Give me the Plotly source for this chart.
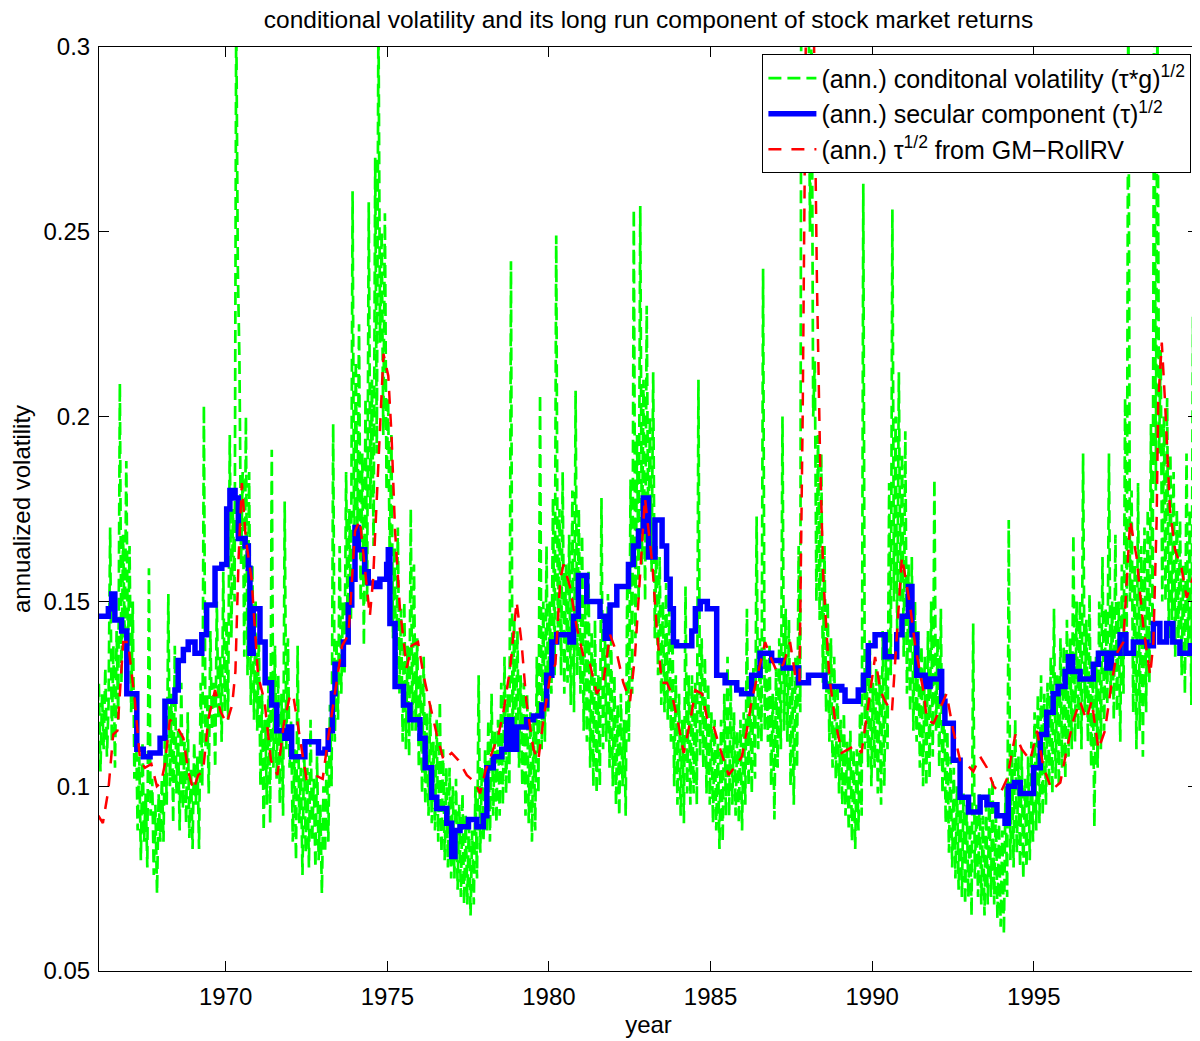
import plotly.graph_objects as go

# ---------------- data ----------------
# secular component (tau)^1/2 : step function, (year, annualized vol)
blue_year = [1966.06, 1966.37, 1966.47, 1966.57, 1966.78, 1966.94, 1967.25, 1967.45, 1967.66, 1967.97,
             1968.12, 1968.43, 1968.53, 1968.69, 1968.84, 1969.05, 1969.26, 1969.41, 1969.67, 1969.88,
             1970.03, 1970.13, 1970.29, 1970.39, 1970.60, 1970.70, 1970.75, 1970.85, 1971.06, 1971.22,
             1971.42, 1971.58, 1971.83, 1971.94, 1972.04, 1972.45, 1972.87, 1973.07, 1973.17, 1973.30,
             1973.38, 1973.64, 1973.79, 1973.90, 1974.00, 1974.10, 1974.30, 1974.41, 1974.60, 1974.77,
             1974.98, 1975.03, 1975.08, 1975.24, 1975.50, 1975.70, 1976.01, 1976.17, 1976.37, 1976.53,
             1976.84, 1976.99, 1977.09, 1977.25, 1977.51, 1977.77, 1977.97, 1978.08, 1978.28, 1978.54,
             1978.69, 1978.85, 1979.00, 1979.31, 1979.52, 1979.78, 1979.93, 1980.09, 1980.24, 1980.65,
             1980.76, 1980.91, 1981.17, 1981.58, 1981.74, 1981.89, 1982.10, 1982.46, 1982.61, 1982.77,
             1982.92, 1983.08, 1983.28, 1983.50, 1983.64, 1983.75, 1983.85, 1983.95, 1984.42, 1984.53,
             1984.68, 1984.90, 1985.19, 1985.45, 1985.81, 1985.96, 1986.27, 1986.53, 1986.89, 1987.25,
             1987.72, 1988.03, 1988.54, 1989.06, 1989.16, 1989.57, 1989.73, 1989.88, 1990.09, 1990.40,
             1990.76, 1990.92, 1991.12, 1991.23, 1991.38, 1991.64, 1991.79, 1992.10, 1992.15, 1992.25,
             1992.51, 1992.72, 1992.98, 1993.34, 1993.55, 1993.86, 1994.11, 1994.21, 1994.40, 1994.58,
             1994.99, 1995.20, 1995.40, 1995.60, 1995.75, 1995.97, 1996.07, 1996.20, 1996.43, 1996.84,
             1997.00, 1997.26, 1997.40, 1997.67, 1997.85, 1998.08, 1998.50, 1998.70, 1998.90, 1999.11,
             1999.30, 1999.52, 1999.85, 1999.99, 2000.10]
blue_vol = [0.146, 0.148, 0.152, 0.145, 0.142, 0.125, 0.110, 0.108, 0.109, 0.113,
            0.123, 0.126, 0.134, 0.137, 0.139, 0.136, 0.141, 0.149, 0.159, 0.160,
            0.175, 0.180, 0.178, 0.167, 0.165, 0.159, 0.136, 0.148, 0.139, 0.128,
            0.122, 0.115, 0.113, 0.116, 0.108, 0.112, 0.109, 0.110, 0.115, 0.125,
            0.133, 0.139, 0.149, 0.156, 0.170, 0.164, 0.158, 0.155, 0.154, 0.156,
            0.160, 0.164, 0.144, 0.127, 0.122, 0.118, 0.113, 0.105, 0.097, 0.094,
            0.090, 0.081, 0.088, 0.089, 0.091, 0.089, 0.092, 0.105, 0.108, 0.110,
            0.118, 0.110, 0.116, 0.118, 0.119, 0.122, 0.130, 0.139, 0.141, 0.139,
            0.146, 0.157, 0.150, 0.146, 0.140, 0.149, 0.154, 0.160, 0.165, 0.169,
            0.178, 0.162, 0.172, 0.165, 0.156, 0.148, 0.139, 0.138, 0.142, 0.148,
            0.150, 0.148, 0.130, 0.128, 0.126, 0.125, 0.130, 0.136, 0.134, 0.132,
            0.128, 0.130, 0.127, 0.126, 0.123, 0.126, 0.130, 0.138, 0.141, 0.135,
            0.141, 0.146, 0.154, 0.141, 0.130, 0.127, 0.129, 0.131, 0.123, 0.117,
            0.107, 0.097, 0.093, 0.097, 0.095, 0.092, 0.090, 0.100, 0.101, 0.098,
            0.105, 0.114, 0.120, 0.125, 0.127, 0.131, 0.135, 0.131, 0.129, 0.133,
            0.136, 0.132, 0.136, 0.141, 0.136, 0.139, 0.138, 0.144, 0.139, 0.144,
            0.139, 0.136, 0.138, 0.146, 0.146]

# tau^1/2 from GM-RollRV
red_year = [1966.06, 1966.20, 1966.37, 1966.52, 1966.65, 1966.83, 1966.98, 1967.10, 1967.19, 1967.35,
            1967.50, 1967.70, 1967.87, 1968.00, 1968.12, 1968.27, 1968.50, 1968.69, 1968.84, 1969.00,
            1969.15, 1969.30, 1969.46, 1969.67, 1969.85, 1970.03, 1970.20, 1970.30, 1970.40, 1970.50,
            1970.62, 1970.80, 1971.00, 1971.20, 1971.40, 1971.60, 1971.80, 1972.00, 1972.10, 1972.35,
            1972.50, 1972.75, 1973.00, 1973.17, 1973.33, 1973.60, 1973.80, 1974.00, 1974.15, 1974.30,
            1974.46, 1974.56, 1974.72, 1974.88, 1975.03, 1975.13, 1975.24, 1975.39, 1975.60, 1975.75,
            1975.95, 1976.12, 1976.32, 1976.53, 1976.74, 1976.99, 1977.20, 1977.46, 1977.72, 1977.87,
            1978.03, 1978.23, 1978.44, 1978.59, 1978.80, 1979.00, 1979.15, 1979.30, 1979.52, 1979.67,
            1979.83, 1980.04, 1980.20, 1980.35, 1980.45, 1980.65, 1980.86, 1981.07, 1981.27, 1981.48,
            1981.68, 1981.89, 1982.10, 1982.30, 1982.51, 1982.66, 1982.82, 1982.97, 1983.20, 1983.33,
            1983.49, 1983.65, 1983.80, 1984.00, 1984.17, 1984.38, 1984.53, 1984.74, 1984.90, 1985.10,
            1985.30, 1985.56, 1985.82, 1985.97, 1986.12, 1986.27, 1986.48, 1986.69, 1986.85, 1987.05,
            1987.25, 1987.46, 1987.62, 1987.75, 1987.85, 1987.92, 1988.02, 1988.12, 1988.20, 1988.29,
            1988.39, 1988.49, 1988.67, 1988.85, 1989.06, 1989.27, 1989.47, 1989.67, 1989.88, 1990.09,
            1990.25, 1990.40, 1990.61, 1990.76, 1990.92, 1991.02, 1991.17, 1991.33, 1991.48, 1991.60,
            1991.69, 1991.90, 1992.10, 1992.30, 1992.51, 1992.72, 1992.92, 1993.13, 1993.34, 1993.55,
            1993.76, 1993.96, 1994.17, 1994.43, 1994.63, 1994.89, 1995.10, 1995.30, 1995.56, 1995.82,
            1996.02, 1996.23, 1996.43, 1996.62, 1996.79, 1997.00, 1997.20, 1997.41, 1997.57, 1997.77,
            1997.98, 1998.18, 1998.39, 1998.60, 1998.70, 1998.80, 1998.85, 1998.96, 1999.06, 1999.21,
            1999.37, 1999.57, 1999.73, 1999.94, 2000.05]
red_vol = [0.092, 0.090, 0.099, 0.114, 0.115, 0.139, 0.139, 0.130, 0.123, 0.107,
           0.105, 0.106, 0.100, 0.101, 0.106, 0.118, 0.116, 0.113, 0.104, 0.099,
           0.103, 0.104, 0.118, 0.126, 0.120, 0.117, 0.122, 0.131, 0.162, 0.182,
           0.167, 0.156, 0.130, 0.123, 0.107, 0.103, 0.117, 0.125, 0.124, 0.110,
           0.102, 0.103, 0.102, 0.113, 0.122, 0.138, 0.141, 0.169, 0.172, 0.159,
           0.146, 0.156, 0.185, 0.217, 0.211, 0.195, 0.169, 0.148, 0.132, 0.138,
           0.139, 0.130, 0.122, 0.114, 0.107, 0.109, 0.107, 0.103, 0.101, 0.098,
           0.104, 0.109, 0.114, 0.120, 0.132, 0.150, 0.139, 0.123, 0.110, 0.107,
           0.118, 0.130, 0.133, 0.156, 0.160, 0.154, 0.143, 0.135, 0.133, 0.125,
           0.128, 0.141, 0.136, 0.128, 0.123, 0.135, 0.159, 0.178, 0.160, 0.143,
           0.128, 0.128, 0.125, 0.117, 0.109, 0.118, 0.126, 0.125, 0.118, 0.116,
           0.110, 0.103, 0.106, 0.108, 0.115, 0.123, 0.131, 0.139, 0.135, 0.131,
           0.133, 0.139, 0.130, 0.128, 0.200, 0.300, 0.380, 0.360, 0.300, 0.237,
           0.188, 0.156, 0.130, 0.118, 0.109, 0.110, 0.111, 0.109, 0.122, 0.135,
           0.126, 0.123, 0.120, 0.139, 0.162, 0.157, 0.149, 0.138, 0.131, 0.125,
           0.118, 0.117, 0.121, 0.125, 0.115, 0.107, 0.106, 0.104, 0.108, 0.105,
           0.100, 0.098, 0.102, 0.114, 0.110, 0.107, 0.115, 0.105, 0.099, 0.101,
           0.110, 0.118, 0.123, 0.118, 0.123, 0.110, 0.115, 0.128, 0.136, 0.139,
           0.172, 0.162, 0.143, 0.130, 0.139, 0.172, 0.204, 0.220, 0.204, 0.175,
           0.164, 0.159, 0.151, 0.157, 0.158]

# conditional volatility (tau*g)^1/2 : twenty readings per year, 1966 .. 1999
green_first_year = 1966
green_per_year = 20
green_vol = [
    0.118, 0.128, 0.104, 0.125, 0.110, 0.132, 0.108, 0.122, 0.170, 0.112, 0.138, 0.105, 0.142, 0.118, 0.209, 0.128, 0.168, 0.140, 0.188, 0.135,  # 1966
    0.165, 0.120, 0.150, 0.102, 0.118, 0.088, 0.108, 0.080, 0.112, 0.085, 0.098, 0.078, 0.159, 0.092, 0.102, 0.076, 0.095, 0.071, 0.098, 0.085,  # 1967
    0.102, 0.085, 0.118, 0.095, 0.152, 0.100, 0.125, 0.090, 0.138, 0.098, 0.115, 0.088, 0.128, 0.094, 0.112, 0.090, 0.120, 0.086, 0.105, 0.083,  # 1968
    0.112, 0.095, 0.108, 0.083, 0.128, 0.100, 0.203, 0.110, 0.125, 0.098, 0.142, 0.115, 0.128, 0.105, 0.150, 0.118, 0.135, 0.112, 0.158, 0.120,  # 1969
    0.145, 0.118, 0.195, 0.140, 0.175, 0.150, 0.310, 0.240, 0.215, 0.160, 0.185, 0.135, 0.200, 0.130, 0.185, 0.122, 0.160, 0.118, 0.150, 0.115,  # 1970
    0.140, 0.100, 0.125, 0.088, 0.118, 0.095, 0.130, 0.090, 0.191, 0.105, 0.138, 0.102, 0.130, 0.095, 0.125, 0.092, 0.177, 0.110, 0.140, 0.105,  # 1971
    0.118, 0.085, 0.110, 0.080, 0.138, 0.090, 0.105, 0.076, 0.112, 0.082, 0.105, 0.078, 0.118, 0.085, 0.102, 0.078, 0.108, 0.080, 0.095, 0.071,  # 1972
    0.100, 0.082, 0.110, 0.085, 0.122, 0.100, 0.198, 0.112, 0.140, 0.118, 0.165, 0.125, 0.150, 0.130, 0.185, 0.140, 0.175, 0.145, 0.261, 0.160,  # 1973
    0.215, 0.170, 0.225, 0.150, 0.190, 0.138, 0.205, 0.150, 0.258, 0.175, 0.210, 0.165, 0.270, 0.190, 0.310, 0.220, 0.250, 0.195, 0.255, 0.180,  # 1974
    0.205, 0.160, 0.195, 0.140, 0.165, 0.128, 0.170, 0.125, 0.148, 0.112, 0.150, 0.110, 0.138, 0.108, 0.175, 0.115, 0.160, 0.115, 0.140, 0.105,  # 1975
    0.130, 0.098, 0.135, 0.095, 0.120, 0.092, 0.122, 0.090, 0.112, 0.088, 0.118, 0.085, 0.123, 0.082, 0.110, 0.080, 0.105, 0.078, 0.105, 0.075,  # 1976
    0.100, 0.075, 0.102, 0.072, 0.095, 0.070, 0.098, 0.068, 0.092, 0.068, 0.092, 0.065, 0.088, 0.068, 0.100, 0.075, 0.130, 0.082, 0.105, 0.085,  # 1977
    0.110, 0.088, 0.118, 0.085, 0.125, 0.092, 0.115, 0.090, 0.118, 0.092, 0.128, 0.095, 0.135, 0.098, 0.125, 0.100, 0.242, 0.110, 0.145, 0.110,  # 1978
    0.142, 0.105, 0.130, 0.100, 0.128, 0.092, 0.125, 0.090, 0.120, 0.085, 0.118, 0.088, 0.135, 0.098, 0.206, 0.110, 0.150, 0.112, 0.165, 0.120,  # 1979
    0.150, 0.125, 0.178, 0.130, 0.249, 0.140, 0.175, 0.130, 0.185, 0.125, 0.160, 0.128, 0.168, 0.122, 0.180, 0.120, 0.207, 0.130, 0.175, 0.125,  # 1980
    0.168, 0.115, 0.150, 0.112, 0.158, 0.105, 0.142, 0.100, 0.145, 0.098, 0.130, 0.100, 0.178, 0.110, 0.145, 0.112, 0.152, 0.105, 0.140, 0.100,  # 1981
    0.130, 0.095, 0.122, 0.092, 0.125, 0.100, 0.118, 0.092, 0.160, 0.112, 0.183, 0.125, 0.256, 0.140, 0.195, 0.150, 0.257, 0.160, 0.210, 0.150,  # 1982
    0.230, 0.165, 0.200, 0.158, 0.212, 0.140, 0.165, 0.130, 0.162, 0.122, 0.150, 0.120, 0.155, 0.118, 0.148, 0.112, 0.140, 0.100, 0.130, 0.095,  # 1983
    0.125, 0.092, 0.118, 0.090, 0.154, 0.098, 0.130, 0.095, 0.130, 0.098, 0.128, 0.095, 0.210, 0.108, 0.140, 0.105, 0.135, 0.098, 0.128, 0.095,  # 1984
    0.120, 0.090, 0.118, 0.088, 0.112, 0.083, 0.118, 0.085, 0.125, 0.092, 0.135, 0.092, 0.128, 0.095, 0.120, 0.092, 0.115, 0.090, 0.118, 0.088,  # 1985
    0.120, 0.095, 0.148, 0.100, 0.125, 0.098, 0.132, 0.102, 0.173, 0.110, 0.140, 0.112, 0.240, 0.115, 0.135, 0.112, 0.138, 0.100, 0.125, 0.091,  # 1986
    0.132, 0.105, 0.140, 0.110, 0.200, 0.115, 0.148, 0.112, 0.145, 0.100, 0.132, 0.095, 0.135, 0.105, 0.165, 0.120, 0.450, 0.300, 0.420, 0.330,  # 1987
    0.330, 0.250, 0.310, 0.200, 0.215, 0.150, 0.195, 0.145, 0.190, 0.128, 0.165, 0.120, 0.150, 0.112, 0.140, 0.105, 0.135, 0.102, 0.128, 0.098,  # 1988
    0.118, 0.095, 0.120, 0.092, 0.112, 0.088, 0.115, 0.085, 0.110, 0.083, 0.110, 0.088, 0.120, 0.092, 0.263, 0.110, 0.135, 0.105, 0.140, 0.100,  # 1989
    0.128, 0.105, 0.132, 0.098, 0.130, 0.095, 0.142, 0.100, 0.135, 0.110, 0.182, 0.130, 0.256, 0.150, 0.200, 0.140, 0.212, 0.150, 0.190, 0.135,  # 1990
    0.196, 0.125, 0.160, 0.120, 0.162, 0.115, 0.150, 0.112, 0.142, 0.105, 0.138, 0.100, 0.135, 0.100, 0.142, 0.102, 0.150, 0.108, 0.183, 0.115,  # 1991
    0.140, 0.105, 0.148, 0.098, 0.125, 0.090, 0.115, 0.082, 0.108, 0.078, 0.105, 0.075, 0.100, 0.072, 0.102, 0.070, 0.098, 0.068, 0.095, 0.070,  # 1992
    0.090, 0.065, 0.144, 0.075, 0.095, 0.070, 0.098, 0.068, 0.092, 0.065, 0.095, 0.068, 0.100, 0.070, 0.102, 0.068, 0.095, 0.064, 0.090, 0.062,  # 1993
    0.088, 0.060, 0.100, 0.070, 0.172, 0.080, 0.110, 0.078, 0.118, 0.082, 0.108, 0.078, 0.110, 0.075, 0.102, 0.078, 0.108, 0.080, 0.112, 0.085,  # 1994
    0.120, 0.088, 0.125, 0.090, 0.130, 0.092, 0.125, 0.095, 0.128, 0.100, 0.135, 0.098, 0.148, 0.102, 0.130, 0.100, 0.140, 0.105, 0.138, 0.102,  # 1995
    0.145, 0.108, 0.140, 0.110, 0.168, 0.112, 0.150, 0.115, 0.150, 0.110, 0.190, 0.120, 0.145, 0.112, 0.152, 0.105, 0.130, 0.089, 0.135, 0.105,  # 1996
    0.150, 0.110, 0.162, 0.115, 0.148, 0.122, 0.190, 0.125, 0.150, 0.118, 0.168, 0.120, 0.150, 0.112, 0.160, 0.125, 0.205, 0.140, 0.320, 0.150,  # 1997
    0.180, 0.120, 0.160, 0.110, 0.182, 0.115, 0.165, 0.108, 0.170, 0.120, 0.175, 0.128, 0.198, 0.140, 0.330, 0.180, 0.310, 0.190, 0.218, 0.150,  # 1998
    0.200, 0.150, 0.205, 0.140, 0.190, 0.145, 0.185, 0.135, 0.175, 0.140, 0.172, 0.130, 0.160, 0.125, 0.190, 0.135, 0.175, 0.122, 0.227, 0.140,  # 1999
]
green_year = [green_first_year + (i + 0.5) / green_per_year for i in range(len(green_vol))]

x_ticks = [1970, 1975, 1980, 1985, 1990, 1995]
y_ticks = [0.05, 0.1, 0.15, 0.2, 0.25, 0.3]
y_tick_text = ["0.05", "0.1", "0.15", "0.2", "0.25", "0.3"]

title_text = "conditional volatility and its long run component of stock market returns"
name_green = "(ann.) conditonal volatility (τ*g)<sup>1/2</sup>"
name_blue = "(ann.) secular component (τ)<sup>1/2</sup>"
name_red = "(ann.) τ<sup>1/2</sup> from GM−RollRV"

# ---------------- figure ----------------
FONT = "Liberation Sans, Arial, Helvetica, sans-serif"
W, H = 1192, 1033   # the page body keeps an 8px margin inside the 1200x1041 window

fig = go.Figure()
fig.add_trace(go.Scatter(x=green_year, y=green_vol, mode="lines", name=name_green,
                         line=dict(color="#00FF00", width=2.7, dash="13px,6px")))
fig.add_trace(go.Scatter(x=blue_year, y=blue_vol, mode="lines", name=name_blue,
                         line=dict(color="#0000FF", width=5.5, shape="hv")))
fig.add_trace(go.Scatter(x=red_year, y=red_vol, mode="lines", name=name_red,
                         line=dict(color="#FF0000", width=2.5, dash="13px,10px")))

axis_common = dict(showgrid=False, zeroline=False, showline=True, linecolor="black", linewidth=1,
                   mirror="ticks", ticks="inside", ticklen=10, tickcolor="black", tickwidth=1,
                   tickfont=dict(family=FONT, size=24, color="black"))

fig.update_layout(
    width=W, height=H,
    margin=dict(l=91, r=2, t=39, b=70),
    paper_bgcolor="white", plot_bgcolor="white",
    font=dict(family=FONT, color="black"),
    title=dict(text=title_text, font=dict(family=FONT, size=24.5, color="black"),
               x=0.5, xref="paper", xanchor="center", y=1 - 11 / H, yref="container", yanchor="middle"),
    xaxis=dict(range=[1966.08, 2000.08], tickvals=x_ticks, ticklabelstandoff=4,
               title=dict(text="year", font=dict(family=FONT, size=24, color="black"), standoff=7),
               **axis_common),
    yaxis=dict(range=[0.05, 0.3], tickvals=y_ticks, ticktext=y_tick_text, ticklabelstandoff=3,
               title=dict(text="annualized volatility", font=dict(family=FONT, size=24, color="black"), standoff=16),
               **axis_common),
    legend=dict(x=0.994, y=0.992, xanchor="right", yanchor="top", bgcolor="white",
                bordercolor="black", borderwidth=1, font=dict(family=FONT, size=25, color="black"),
                itemwidth=48),
    showlegend=True,
)

fig.write_html("out.html")
